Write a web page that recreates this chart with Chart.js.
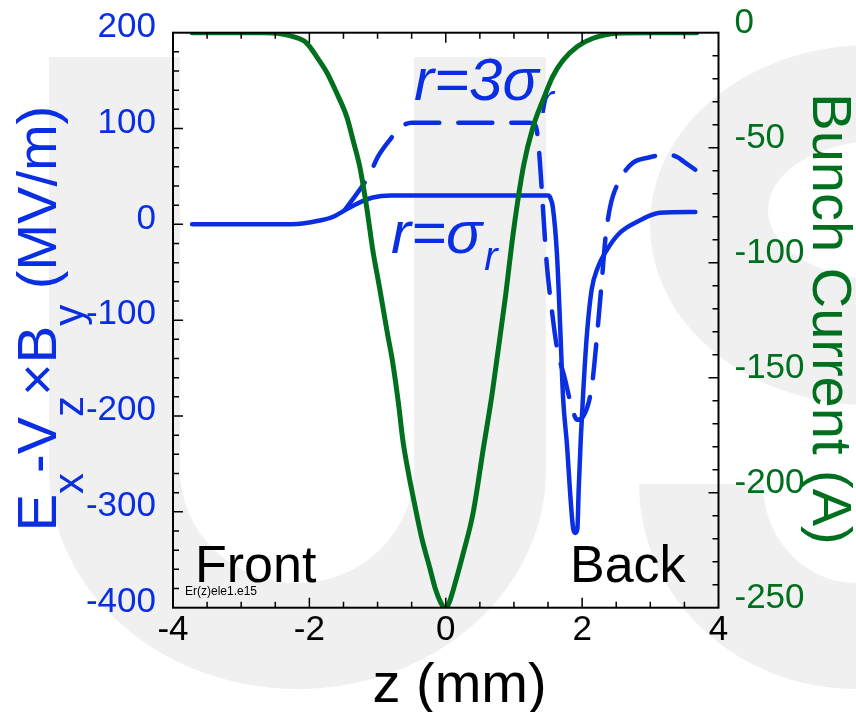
<!DOCTYPE html>
<html>
<head>
<meta charset="utf-8">
<script src="https://cdn.jsdelivr.net/npm/chart.js@4.4.0/dist/chart.umd.min.js"></script>
<style>
  html, body { margin: 0; padding: 0; background: #fff; }
  #wrap { width: 856px; height: 712px; }
</style>
</head>
<body>
<div id="wrap"><canvas id="fieldChart" width="856" height="712"></canvas></div>
<script>
// bunch current profile (A) vs z (mm)
const currentZ = [-3.72, -3.0, -2.65, -2.47, -2.24, -2.04, -1.89, -1.74, -1.60, -1.45, -1.36, -1.26, -1.16, -1.07, -0.97, -0.86, -0.78, -0.69, -0.63, -0.55, -0.45, -0.35, -0.24, -0.15, -0.05, 0.0, 0.06, 0.15, 0.25, 0.40, 0.55, 0.68, 0.75, 0.87, 0.99, 1.14, 1.28, 1.43, 1.57, 1.72, 1.93, 2.16, 2.51, 3.0, 3.68];
const currentAmps = [0, 0, 0, -0.3, -1.7, -4.5, -10.6, -17.5, -26.2, -36.7, -46.7, -58.4, -75.8, -94.5, -111, -130, -143, -162, -177, -191, -206, -220, -232, -242, -249, -250, -247, -238, -227, -209, -181, -157, -142, -116, -87, -58, -41, -29, -19, -12, -6, -2.4, -0.2, 0, 0];

// transverse field at r = sigma_r
const fieldZ1 = [-3.72, -2.5, -2.1, -1.85, -1.65, -1.45, -1.26, -1.07, -0.8, 0.0, 1.50, 1.53, 1.57, 1.63, 1.68, 1.72, 1.78, 1.82, 1.87, 1.90, 1.93, 1.95, 1.98, 2.02, 2.07, 2.14, 2.23, 2.36, 2.55, 2.80, 3.14, 3.66];
const fieldE1 = [0, 0, 1, 4, 8, 16, 23, 28, 30, 30, 30, 28, 18, -30, -110, -180, -232, -276, -318, -322, -318, -276, -224, -170, -115, -68, -45, -27, -9, 2.5, 12, 13];

// transverse field at r = 3 sigma_r
const fieldZ3 = [-1.48, -1.11, -1.0, -0.8, -0.67, -0.5, 1.23, 1.31, 1.34, 1.37, 1.40, 1.43, 1.48, 1.56, 1.63, 1.75, 1.82, 1.93, 2.01, 2.14, 2.23, 2.29, 2.34, 2.41, 2.55, 2.74, 2.99, 3.24, 3.40, 3.50, 3.66];
const fieldE3 = [15, 53, 70, 90, 101, 106, 106, 104, 96, 75, 45, 12, -40, -92, -128, -162, -183, -204, -201, -170, -107, -58, -16, 18, 46, 64, 70, 73, 70, 65, 57];

const zTicks = [-4, -2, 0, 2, 4];
const fieldTicks = [-400, -300, -200, -100, 0, 100, 200];
const currentTicks = [-250, -200, -150, -100, -50, 0];
const zMinorStep = 0.5;
const fieldMinorStep = 20;
const currentMinorStep = 10;

const BLUE = '#0a2ee2';
const GREEN = '#00701f';
const FONT = "'Liberation Sans', Arial, Helvetica, sans-serif";

function pairs(xs, ys) {
    return xs.map((x, i) => ({ x: x, y: ys[i] }));
}

function setTicks(values) {
    return scale => { scale.ticks = values.map(v => ({ value: v })); };
}

// fixed axis band, no extra room reserved for overhanging labels
function fixBand(size) {
    return scale => {
        if (scale.isHorizontal()) scale.height = size;
        else scale.width = size;
        scale.paddingTop = 0;
        scale.paddingBottom = 0;
        scale.paddingLeft = 0;
        scale.paddingRight = 0;
    };
}

// big pale "US" letters sitting behind the plot
function drawWatermark(ctx) {
    ctx.save();
    ctx.fillStyle = '#f0f0f0';

    ctx.beginPath();
    ctx.moveTo(49, 57);
    ctx.lineTo(49, 470);
    ctx.ellipse(297.5, 470, 248.5, 219, 0, Math.PI, 0, true);
    ctx.lineTo(546, 57);
    ctx.lineTo(414, 57);
    ctx.lineTo(414, 470);
    ctx.ellipse(297, 470, 117, 113, 0, 0, Math.PI, false);
    ctx.lineTo(180, 57);
    ctx.closePath();
    ctx.fill();

    ctx.beginPath();
    ctx.ellipse(870, 225, 220, 180, 0, 0, Math.PI * 2);
    ctx.ellipse(880, 210, 112, 69, 0, 0, Math.PI * 2);
    ctx.fill('evenodd');

    ctx.beginPath();
    ctx.moveTo(639, 484);
    ctx.lineTo(763, 484);
    ctx.ellipse(856, 484, 93, 99, 0, Math.PI, Math.PI / 2, true);
    ctx.lineTo(856, 689);
    ctx.ellipse(856, 484, 217, 205, 0, Math.PI / 2, Math.PI, false);
    ctx.closePath();
    ctx.fill();
    ctx.restore();
}

// text with subscripts, drawn along the current baseline and centred on 0
function drawRich(ctx, parts, mainFont, subFont, subShift) {
    let total = 0;
    parts.forEach(p => {
        ctx.font = p.sub ? subFont : mainFont;
        p.w = ctx.measureText(p.t).width;
        total += p.w;
    });
    let x = -total / 2;
    ctx.textAlign = 'left';
    ctx.textBaseline = 'alphabetic';
    parts.forEach(p => {
        ctx.font = p.sub ? subFont : mainFont;
        ctx.fillText(p.t, x, p.sub ? subShift : 0);
        x += p.w;
    });
}

const backdrop = {
    id: 'backdrop',
    beforeDraw(chart) {
        const ctx = chart.ctx;
        ctx.save();
        ctx.fillStyle = '#fff';
        ctx.fillRect(0, 0, chart.width, chart.height);
        ctx.restore();
        drawWatermark(ctx);
    }
};

const labels = {
    id: 'labels',
    beforeDatasetsDraw(chart) {
        const ctx = chart.ctx;
        ctx.save();

        // curve labels
        ctx.fillStyle = BLUE;
        ctx.textAlign = 'left';
        ctx.textBaseline = 'alphabetic';
        ctx.font = 'italic 60px ' + FONT;
        ctx.fillText('r=3σ', 414, 100);
        let w = ctx.measureText('r=3σ').width;
        ctx.font = 'italic 40px ' + FONT;
        ctx.fillText('r', 414 + w + 2, 113);

        ctx.font = 'italic 60px ' + FONT;
        ctx.fillText('r=σ', 391, 253);
        w = ctx.measureText('r=σ').width;
        ctx.font = 'italic 40px ' + FONT;
        ctx.fillText('r', 391 + w + 2, 270);

        ctx.fillStyle = '#000';
        ctx.font = '52px ' + FONT;
        ctx.fillText('Front', 195, 582);
        ctx.fillText('Back', 570, 582);
        ctx.font = '12px ' + FONT;
        ctx.fillText('Er(z)ele1.e15', 185, 595);
        ctx.restore();
    },
    afterDraw(chart) {
        const ctx = chart.ctx;
        ctx.save();

        ctx.fillStyle = '#000';
        ctx.font = '56px ' + FONT;
        ctx.textAlign = 'center';
        ctx.textBaseline = 'alphabetic';
        ctx.fillText('z (mm)', 459.5, 702);

        ctx.save();
        ctx.translate(56, 318.5);
        ctx.rotate(-Math.PI / 2);
        ctx.fillStyle = BLUE;
        drawRich(ctx, [
            { t: 'E' }, { t: 'x', sub: true }, { t: '-V' }, { t: 'z', sub: true },
            { t: '×B' }, { t: 'y', sub: true }, { t: ' (MV/m)' }
        ], '56px ' + FONT, '42px ' + FONT, 27);
        ctx.restore();

        ctx.save();
        ctx.translate(813, 319);
        ctx.rotate(Math.PI / 2);
        ctx.fillStyle = GREEN;
        ctx.font = '56px ' + FONT;
        ctx.textAlign = 'center';
        ctx.fillText('Bunch Current (A)', 0, 0);
        ctx.restore();

        ctx.restore();
    }
};

// box round the plot with inward ticks, minor and major
const frame = {
    id: 'frame',
    afterDatasetsDraw(chart) {
        const { ctx, chartArea: a, scales } = chart;
        const isMajor = (list, v) => list.some(t => Math.abs(t - v) < 1e-6);
        ctx.save();
        ctx.strokeStyle = '#000';
        ctx.lineWidth = 1.5;
        ctx.beginPath();

        const xs = scales.x;
        let n = Math.round((xs.max - xs.min) / zMinorStep);
        for (let i = 1; i < n; i++) {
            const v = xs.min + i * zMinorStep;
            const px = xs.getPixelForValue(v);
            const len = isMajor(zTicks, v) ? 10 : 6;
            ctx.moveTo(px, a.bottom);
            ctx.lineTo(px, a.bottom - len);
            ctx.moveTo(px, a.top);
            ctx.lineTo(px, a.top + len);
        }

        const yl = scales.y;
        n = Math.round((yl.max - yl.min) / fieldMinorStep);
        for (let i = 1; i < n; i++) {
            const v = yl.min + i * fieldMinorStep;
            const py = yl.getPixelForValue(v);
            const len = isMajor(fieldTicks, v) ? 10 : 6;
            ctx.moveTo(a.left, py);
            ctx.lineTo(a.left + len, py);
        }

        const yr = scales.y2;
        n = Math.round((yr.max - yr.min) / currentMinorStep);
        for (let i = 1; i < n; i++) {
            const v = yr.min + i * currentMinorStep;
            const py = yr.getPixelForValue(v);
            const len = isMajor(currentTicks, v) ? 10 : 6;
            ctx.moveTo(a.right, py);
            ctx.lineTo(a.right - len, py);
        }
        ctx.stroke();

        ctx.lineWidth = 2;
        ctx.strokeRect(a.left, a.top, a.right - a.left, a.bottom - a.top);
        ctx.restore();
    }
};

new Chart(document.getElementById('fieldChart'), {
    type: 'line',
    data: {
        datasets: [
            {
                label: 'Bunch current',
                data: pairs(currentZ, currentAmps),
                yAxisID: 'y2',
                borderColor: GREEN,
                borderWidth: 5,
                cubicInterpolationMode: 'monotone',
                borderJoinStyle: 'round',
                borderCapStyle: 'round',
                pointRadius: 0
            },
            {
                label: 'r = sigma_r',
                data: pairs(fieldZ1, fieldE1),
                yAxisID: 'y',
                borderColor: BLUE,
                borderWidth: 4.5,
                cubicInterpolationMode: 'monotone',
                borderJoinStyle: 'round',
                borderCapStyle: 'round',
                pointRadius: 0
            },
            {
                label: 'r = 3 sigma_r',
                data: pairs(fieldZ3, fieldE3),
                yAxisID: 'y',
                borderColor: BLUE,
                borderWidth: 4.5,
                borderDash: [34, 19],
                cubicInterpolationMode: 'monotone',
                borderJoinStyle: 'round',
                borderCapStyle: 'round',
                pointRadius: 0
            }
        ]
    },
    options: {
        responsive: false,
        devicePixelRatio: 1,
        animation: false,
        layout: { padding: { top: 32.7, left: 0, right: 0, bottom: 0 } },
        plugins: { legend: { display: false }, tooltip: { enabled: false } },
        scales: {
            x: {
                type: 'linear',
                min: -4,
                max: 4,
                afterBuildTicks: setTicks(zTicks),
                afterFit: fixBand(104.3),
                grid: { display: false, drawTicks: false },
                border: { display: false },
                ticks: { color: '#000', padding: 2, font: { family: FONT, size: 35 }, maxRotation: 0 }
            },
            y: {
                type: 'linear',
                position: 'left',
                min: -400,
                max: 200,
                afterBuildTicks: setTicks(fieldTicks),
                afterFit: fixBand(173),
                grid: { display: false, drawTicks: false },
                border: { display: false },
                ticks: { color: BLUE, padding: 17, labelOffset: -5.5, font: { family: FONT, size: 35 } }
            },
            y2: {
                type: 'linear',
                position: 'right',
                min: -250,
                max: 0,
                afterBuildTicks: setTicks(currentTicks),
                afterFit: fixBand(137.5),
                grid: { display: false, drawTicks: false },
                border: { display: false },
                ticks: { color: GREEN, padding: 16, labelOffset: -9, font: { family: FONT, size: 35 } }
            }
        }
    },
    plugins: [backdrop, labels, frame]
});
</script>
</body>
</html>
